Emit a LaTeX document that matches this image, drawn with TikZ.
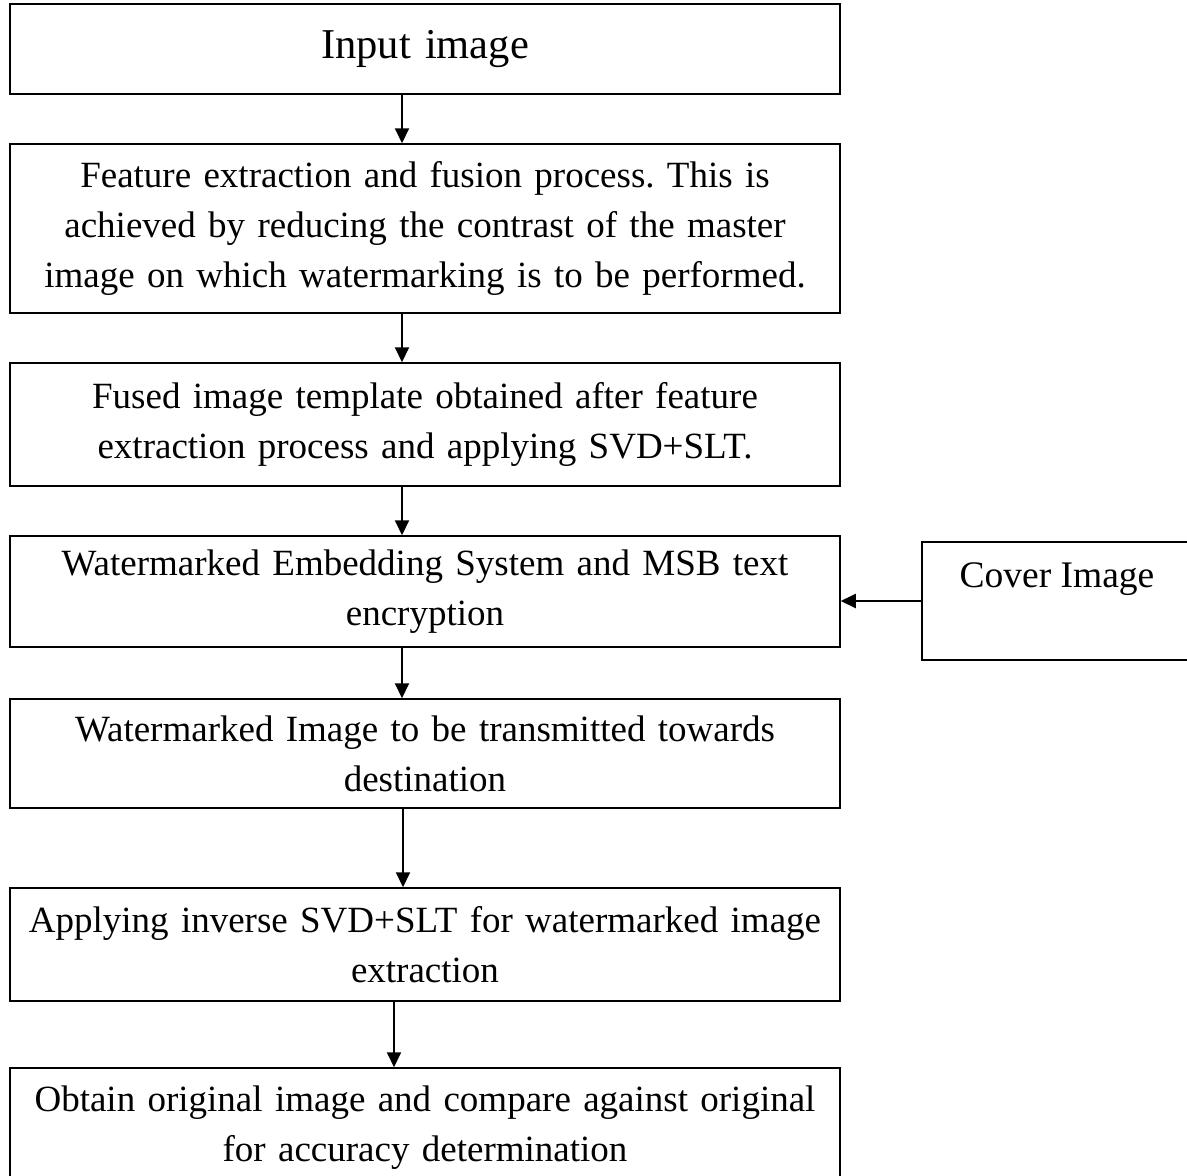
\documentclass[tikz,border=0pt]{standalone}
\usepackage{fontspec}
\setmainfont{Liberation Serif}
\usetikzlibrary{positioning,arrows.meta}
\frenchspacing

\begin{document}
\begin{tikzpicture}[x=1pt, y=-1pt,
		box/.style={draw, line width=1.5pt, align=center, text width=810pt, inner xsep=10pt, inner ysep=0pt, font=\fontsize{37}{50}\selectfont},
		flow/.style={line width=2pt, -{Triangle[length=15pt, width=14pt]}}]
		% 画布大小
		\useasboundingbox (0,0) rectangle (1187,1176);
		% 左边一列流程框
		\node[box, line width=2pt, minimum height=90pt, font=\fontsize{42.5}{50}\selectfont] (input) at (425,49) {Input image};
		\node[box, minimum height=169pt] (feature) at (425,228.5) {Feature extraction and fusion process. This is\\ achieved by reducing the contrast of the master\\ image on which watermarking is to be performed.};
		\node[box, minimum height=123pt] (fused) at (425,424.5) {Fused image template obtained after feature\\ extraction process and applying SVD+SLT.};
		\node[box, minimum height=111pt] (embed) at (425,591.5) {Watermarked Embedding System and MSB text\\ encryption};
		\node[box, minimum height=109pt] (transmit) at (425,753.5) {Watermarked Image to be transmitted towards\\ destination};
		\node[box, minimum height=113pt] (inverse) at (425,944.5) {Applying inverse SVD+SLT for watermarked image\\ extraction};
		\node[box, minimum height=119pt] (obtain) at (425,1127.5) {Obtain original image and compare against original\\ for accuracy determination};
		% 右边的 Cover Image 框, 文字靠上
		\node[draw, line width=1.5pt, minimum width=270pt, inner xsep=0pt, inner ysep=0pt, text height=45pt, text depth=73pt, font=\fontsize{37.5}{50}\selectfont] (cover) at (1057,601) {Cover Image};
		% 连接箭头
		\draw[flow] ([xshift=-23pt]input.south) -- ([xshift=-23pt]feature.north);
		\draw[flow] ([xshift=-23pt]feature.south) -- ([xshift=-23pt]fused.north);
		\draw[flow] ([xshift=-23pt]fused.south) -- ([xshift=-23pt]embed.north);
		\draw[flow] ([xshift=-23pt]embed.south) -- ([xshift=-23pt]transmit.north);
		\draw[flow] ([xshift=-22pt]transmit.south) -- ([xshift=-22pt]inverse.north);
		\draw[flow] ([xshift=-31pt]inverse.south) -- ([xshift=-31pt]obtain.north);
		\draw[flow] (cover.west) -- (cover.west -| embed.east);
	\end{tikzpicture}
\end{document}
